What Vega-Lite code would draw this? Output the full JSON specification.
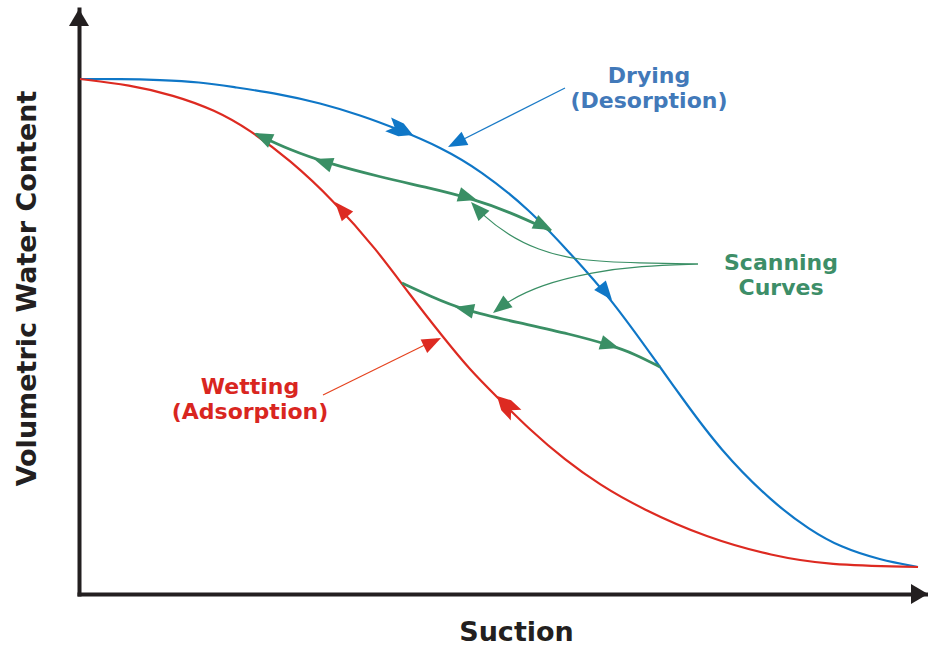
{
  "$schema": "https://vega.github.io/schema/vega-lite/v6.json",
  "width": 849,
  "height": 585,
  "autosize": {"type": "none"},
  "padding": {"left": 79, "top": 9, "right": 0, "bottom": 52},
  "background": "white",
  "config": {"view": {"stroke": null}},
  "datasets": {
    "curves": [
      {"line": "dry", "series": "drying", "kind": "main", "x": 1, "y": 515},
      {"line": "dry", "series": "drying", "kind": "main", "x": 41, "y": 515},
      {"line": "dry", "series": "drying", "kind": "main", "x": 81, "y": 514},
      {"line": "dry", "series": "drying", "kind": "main", "x": 121, "y": 512},
      {"line": "dry", "series": "drying", "kind": "main", "x": 154, "y": 507},
      {"line": "dry", "series": "drying", "kind": "main", "x": 201, "y": 500},
      {"line": "dry", "series": "drying", "kind": "main", "x": 241, "y": 491},
      {"line": "dry", "series": "drying", "kind": "main", "x": 281, "y": 479},
      {"line": "dry", "series": "drying", "kind": "main", "x": 321, "y": 464},
      {"line": "dry", "series": "drying", "kind": "main", "x": 361, "y": 447},
      {"line": "dry", "series": "drying", "kind": "main", "x": 401, "y": 424},
      {"line": "dry", "series": "drying", "kind": "main", "x": 451, "y": 384},
      {"line": "dry", "series": "drying", "kind": "main", "x": 488, "y": 344},
      {"line": "dry", "series": "drying", "kind": "main", "x": 531, "y": 297},
      {"line": "dry", "series": "drying", "kind": "main", "x": 581, "y": 227},
      {"line": "dry", "series": "drying", "kind": "main", "x": 601, "y": 199},
      {"line": "dry", "series": "drying", "kind": "main", "x": 641, "y": 144},
      {"line": "dry", "series": "drying", "kind": "main", "x": 694, "y": 91},
      {"line": "dry", "series": "drying", "kind": "main", "x": 731, "y": 64},
      {"line": "dry", "series": "drying", "kind": "main", "x": 761, "y": 47},
      {"line": "dry", "series": "drying", "kind": "main", "x": 801, "y": 34},
      {"line": "dry", "series": "drying", "kind": "main", "x": 839, "y": 27},
      {"line": "wet", "series": "wetting", "kind": "main", "x": 1, "y": 515},
      {"line": "wet", "series": "wetting", "kind": "main", "x": 51, "y": 509},
      {"line": "wet", "series": "wetting", "kind": "main", "x": 94, "y": 499},
      {"line": "wet", "series": "wetting", "kind": "main", "x": 136, "y": 484},
      {"line": "wet", "series": "wetting", "kind": "main", "x": 171, "y": 464},
      {"line": "wet", "series": "wetting", "kind": "main", "x": 211, "y": 434},
      {"line": "wet", "series": "wetting", "kind": "main", "x": 254, "y": 394},
      {"line": "wet", "series": "wetting", "kind": "main", "x": 298, "y": 344},
      {"line": "wet", "series": "wetting", "kind": "main", "x": 331, "y": 299},
      {"line": "wet", "series": "wetting", "kind": "main", "x": 364, "y": 257},
      {"line": "wet", "series": "wetting", "kind": "main", "x": 391, "y": 224},
      {"line": "wet", "series": "wetting", "kind": "main", "x": 418, "y": 197},
      {"line": "wet", "series": "wetting", "kind": "main", "x": 451, "y": 164},
      {"line": "wet", "series": "wetting", "kind": "main", "x": 486, "y": 134},
      {"line": "wet", "series": "wetting", "kind": "main", "x": 521, "y": 109},
      {"line": "wet", "series": "wetting", "kind": "main", "x": 561, "y": 86},
      {"line": "wet", "series": "wetting", "kind": "main", "x": 628, "y": 56},
      {"line": "wet", "series": "wetting", "kind": "main", "x": 694, "y": 38},
      {"line": "wet", "series": "wetting", "kind": "main", "x": 748, "y": 29},
      {"line": "wet", "series": "wetting", "kind": "main", "x": 839, "y": 27},
      {"line": "scan1", "series": "scanning", "kind": "scan", "x": 177, "y": 460},
      {"line": "scan1", "series": "scanning", "kind": "scan", "x": 211, "y": 444},
      {"line": "scan1", "series": "scanning", "kind": "scan", "x": 248, "y": 431},
      {"line": "scan1", "series": "scanning", "kind": "scan", "x": 301, "y": 417},
      {"line": "scan1", "series": "scanning", "kind": "scan", "x": 351, "y": 406},
      {"line": "scan1", "series": "scanning", "kind": "scan", "x": 391, "y": 396},
      {"line": "scan1", "series": "scanning", "kind": "scan", "x": 431, "y": 382},
      {"line": "scan1", "series": "scanning", "kind": "scan", "x": 472, "y": 363},
      {"line": "scan2", "series": "scanning", "kind": "scan", "x": 323, "y": 311},
      {"line": "scan2", "series": "scanning", "kind": "scan", "x": 351, "y": 298},
      {"line": "scan2", "series": "scanning", "kind": "scan", "x": 384, "y": 284},
      {"line": "scan2", "series": "scanning", "kind": "scan", "x": 441, "y": 271},
      {"line": "scan2", "series": "scanning", "kind": "scan", "x": 491, "y": 260},
      {"line": "scan2", "series": "scanning", "kind": "scan", "x": 531, "y": 249},
      {"line": "scan2", "series": "scanning", "kind": "scan", "x": 556, "y": 240},
      {"line": "scan2", "series": "scanning", "kind": "scan", "x": 581, "y": 227},
      {"line": "leadDry", "series": "drying", "kind": "leader", "x": 486, "y": 506},
      {"line": "leadDry", "series": "drying", "kind": "leader", "x": 373, "y": 449},
      {"line": "leadWet", "series": "wetting", "kind": "leader", "x": 244, "y": 199},
      {"line": "leadWet", "series": "wetting", "kind": "leader", "x": 358, "y": 255},
      {"line": "leadScan1", "series": "scanning", "kind": "leader", "x": 619, "y": 330},
      {"line": "leadScan1", "series": "scanning", "kind": "leader", "x": 561, "y": 331},
      {"line": "leadScan1", "series": "scanning", "kind": "leader", "x": 501, "y": 333},
      {"line": "leadScan1", "series": "scanning", "kind": "leader", "x": 458, "y": 344},
      {"line": "leadScan1", "series": "scanning", "kind": "leader", "x": 426, "y": 361},
      {"line": "leadScan1", "series": "scanning", "kind": "leader", "x": 404, "y": 379},
      {"line": "leadScan1", "series": "scanning", "kind": "leader", "x": 395, "y": 389},
      {"line": "leadScan2", "series": "scanning", "kind": "leader", "x": 619, "y": 330},
      {"line": "leadScan2", "series": "scanning", "kind": "leader", "x": 561, "y": 328},
      {"line": "leadScan2", "series": "scanning", "kind": "leader", "x": 514, "y": 322},
      {"line": "leadScan2", "series": "scanning", "kind": "leader", "x": 461, "y": 309},
      {"line": "leadScan2", "series": "scanning", "kind": "leader", "x": 428, "y": 292},
      {"line": "leadScan2", "series": "scanning", "kind": "leader", "x": 416, "y": 283}
    ],
    "arrows": [
      {"series": "drying", "kind": "dart", "x": 334, "y": 459, "ang": 113},
      {"series": "drying", "kind": "tri", "x": 533, "y": 294, "ang": 141},
      {"series": "wetting", "kind": "tri", "x": 256, "y": 392, "ang": 319},
      {"series": "wetting", "kind": "dart", "x": 418, "y": 198, "ang": 315},
      {"series": "scanning", "kind": "tri", "x": 175, "y": 461, "ang": 295},
      {"series": "scanning", "kind": "tri", "x": 235, "y": 435, "ang": 289},
      {"series": "scanning", "kind": "tri", "x": 398, "y": 394, "ang": 107},
      {"series": "scanning", "kind": "tri", "x": 473, "y": 364, "ang": 116},
      {"series": "scanning", "kind": "tri", "x": 376, "y": 287, "ang": 283},
      {"series": "scanning", "kind": "tri", "x": 540, "y": 246, "ang": 107},
      {"series": "drying", "kind": "tri", "x": 369, "y": 447, "ang": 243},
      {"series": "wetting", "kind": "tri", "x": 362, "y": 256, "ang": 64},
      {"series": "scanning", "kind": "tri", "x": 392, "y": 392, "ang": 317},
      {"series": "scanning", "kind": "tri", "x": 414, "y": 281, "ang": 232},
      {"series": "axis", "kind": "axis", "x": 0, "y": 585, "ang": 0},
      {"series": "axis", "kind": "axis", "x": 849, "y": 0, "ang": 90}
    ],
    "labels": [
      {"series": "drying", "label": "Drying\n(Desorption)", "x": 570, "y": 511},
      {"series": "scanning", "label": "Scanning\nCurves", "x": 702, "y": 324},
      {"series": "wetting", "label": "Wetting\n(Adsorption)", "x": 171, "y": 200}
    ]
  },
  "resolve": {"scale": {"color": "independent"}},
  "encoding": {
    "x": {"field": "x", "type": "quantitative", "scale": {"domain": [0, 849], "nice": false, "zero": false},
      "axis": {"title": "Suction", "domain": true, "domainColor": "#231f20", "domainWidth": 4, "domainCap": "square", "ticks": false, "labels": false, "grid": false,
        "titleFont": "DejaVu Sans", "titleFontSize": 27, "titleFontWeight": "bold", "titleColor": "#231f20", "titleX": 437, "titleY": 46, "titleAlign": "center", "titleBaseline": "alphabetic"}},
    "y": {"field": "y", "type": "quantitative", "scale": {"domain": [0, 585], "nice": false, "zero": false},
      "axis": {"title": "Volumetric Water Content", "domain": true, "domainColor": "#231f20", "domainWidth": 4, "domainCap": "square", "ticks": false, "labels": false, "grid": false,
        "titleFont": "DejaVu Sans", "titleFontSize": 27, "titleFontWeight": "bold", "titleColor": "#231f20", "titleAngle": 270, "titleX": -44, "titleY": 279, "titleAlign": "center", "titleBaseline": "alphabetic"}}
  },
  "layer": [
    {
      "data": {"name": "curves"},
      "transform": [{"filter": "datum.kind == 'main'"}],
      "mark": {"type": "line", "interpolate": "basis", "strokeWidth": 2.2},
      "encoding": {
        "detail": {"field": "line"},
        "color": {"field": "series", "type": "nominal", "legend": null,
          "scale": {"domain": ["drying", "wetting", "scanning"], "range": ["#0f77c7", "#dd2a21", "#3a8f65"]}}
      }
    },
    {
      "data": {"name": "curves"},
      "transform": [{"filter": "datum.kind == 'scan'"}],
      "mark": {"type": "line", "interpolate": "basis", "strokeWidth": 2.8},
      "encoding": {
        "detail": {"field": "line"},
        "color": {"field": "series", "type": "nominal", "legend": null,
          "scale": {"domain": ["drying", "wetting", "scanning"], "range": ["#0f77c7", "#dd2a21", "#3a8f65"]}}
      }
    },
    {
      "data": {"name": "curves"},
      "transform": [{"filter": "datum.kind == 'leader'"}],
      "mark": {"type": "line", "interpolate": "basis", "strokeWidth": 1.2},
      "encoding": {
        "detail": {"field": "line"},
        "color": {"field": "series", "type": "nominal", "legend": null,
          "scale": {"domain": ["drying", "wetting", "scanning"], "range": ["#1a7ac6", "#e5431f", "#3a8f65"]}}
      }
    },
    {
      "data": {"name": "arrows"},
      "mark": {"type": "point", "filled": true, "opacity": 1, "size": 400, "strokeWidth": 0},
      "encoding": {
        "angle": {"field": "ang", "type": "quantitative", "scale": null},
        "shape": {"field": "kind", "type": "nominal", "legend": null,
          "scale": {"domain": ["tri", "dart", "axis"], "range": ["M0,0L0.75,1.9L-0.75,1.9Z", "M0,0L0.7,1.3L0.75,2.7L0,2.0L-0.75,2.7L-0.7,1.3Z", "M0,0L1,1.7L-1,1.7Z"]}},
        "color": {"field": "series", "type": "nominal", "legend": null,
          "scale": {"domain": ["drying", "wetting", "scanning", "axis"], "range": ["#0f77c7", "#dd2a21", "#3a8f65", "#231f20"]}}
      }
    },
    {
      "data": {"name": "labels"},
      "mark": {"type": "text", "font": "DejaVu Sans", "fontWeight": "bold", "fontSize": 22, "align": "center", "baseline": "alphabetic", "lineBreak": "\n", "lineHeight": 25},
      "encoding": {
        "text": {"field": "label"},
        "color": {"field": "series", "type": "nominal", "legend": null,
          "scale": {"domain": ["drying", "wetting", "scanning"], "range": ["#4279b9", "#d9261f", "#3d8e68"]}}
      }
    }
  ]
}
